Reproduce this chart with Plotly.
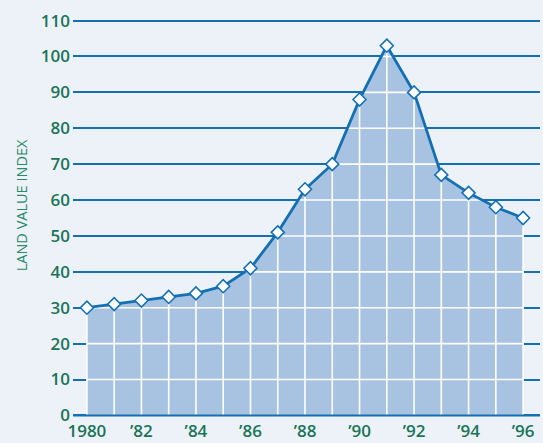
import plotly.graph_objects as go

years = list(range(1980, 1997))
land_value_index = [30, 31, 32, 33, 34, 36, 41, 51, 63, 70, 88, 103, 90, 67, 62, 58, 55]
y_ticks = list(range(0, 111, 10))
x_tickvals = [1980, 1982, 1984, 1986, 1988, 1990, 1992, 1994, 1996]
x_ticktext = ["1980", "\u201982", "\u201984", "\u201986", "\u201988", "\u201990", "\u201992", "\u201994", "\u201996"]

BG = "#edf2f9"
FILL = "#a7c3e1"
BLUE = "#1570b3"
GREEN = "#1a7558"

fig = go.Figure()

# filled area
fig.add_trace(go.Scatter(x=years, y=land_value_index, mode="lines", line=dict(width=0),
                         fill="tozeroy", fillcolor=FILL, hoverinfo="skip", showlegend=False))

# white grid inside the area: verticals
vx, vy = [], []
for x, v in zip(years, land_value_index):
    vx += [x, x, None]
    vy += [0, v, None]
# horizontals: segments where curve >= level
hx, hy = [], []
for h in y_ticks[1:]:
    start = None
    for i in range(len(years)):
        v = land_value_index[i]
        if i == 0:
            if v >= h:
                start = years[0]
            continue
        v0 = land_value_index[i - 1]
        x0, x1 = years[i - 1], years[i]
        if v0 < h <= v:
            start = x0 + (h - v0) / (v - v0) * (x1 - x0)
        elif v0 >= h > v and start is not None:
            end = x0 + (v0 - h) / (v0 - v) * (x1 - x0)
            hx += [start, end, None]
            hy += [h, h, None]
            start = None
    if start is not None:
        hx += [start, years[-1], None]
        hy += [h, h, None]

fig.add_trace(go.Scatter(x=vx + hx, y=vy + hy, mode="lines", line=dict(color="white", width=1.6),
                         hoverinfo="skip", showlegend=False))

# main line with markers
fig.add_trace(go.Scatter(x=years, y=land_value_index, mode="lines+markers",
                         line=dict(color=BLUE, width=2.8),
                         marker=dict(symbol="diamond", size=10, color="white",
                                     line=dict(color=BLUE, width=1.6)),
                         showlegend=False))

# baseline on top
fig.add_shape(type="line", xref="paper", x0=0, x1=1, yref="y", y0=0, y1=0,
              line=dict(color=BLUE, width=2), layer="above")

fig.add_annotation(text="LAND VALUE INDEX", xref="paper", yref="paper",
                   x=-0.111, y=0.532, xanchor="center", yanchor="middle",
                   textangle=-90, showarrow=False,
                   font=dict(family="Open Sans", size=14.5, color="#2a8a6c"))

tickfont = dict(family="Open Sans", size=17, color=GREEN, weight=600)

fig.update_layout(
    width=543, height=443,
    margin=dict(l=73, r=3, t=17, b=24),
    paper_bgcolor=BG, plot_bgcolor=BG,
    xaxis=dict(range=[1979.49, 1996.62], tickvals=x_tickvals, ticktext=x_ticktext,
               showgrid=False, zeroline=False, showline=False, ticks="",
               tickfont=tickfont, ticklabelstandoff=0, automargin=False),
    yaxis=dict(range=[-1, 111], tickvals=y_ticks, showgrid=True, gridcolor=BLUE,
               gridwidth=1.5, zeroline=False, showline=False, ticks="",
               tickfont=tickfont, ticklabelstandoff=2, automargin=False),
)

fig.write_html("out.html", config={"displayModeBar": False},
               post_script="document.body.style.margin='0';document.body.style.padding='0';"
                           "document.body.style.background='%s';" % BG)
